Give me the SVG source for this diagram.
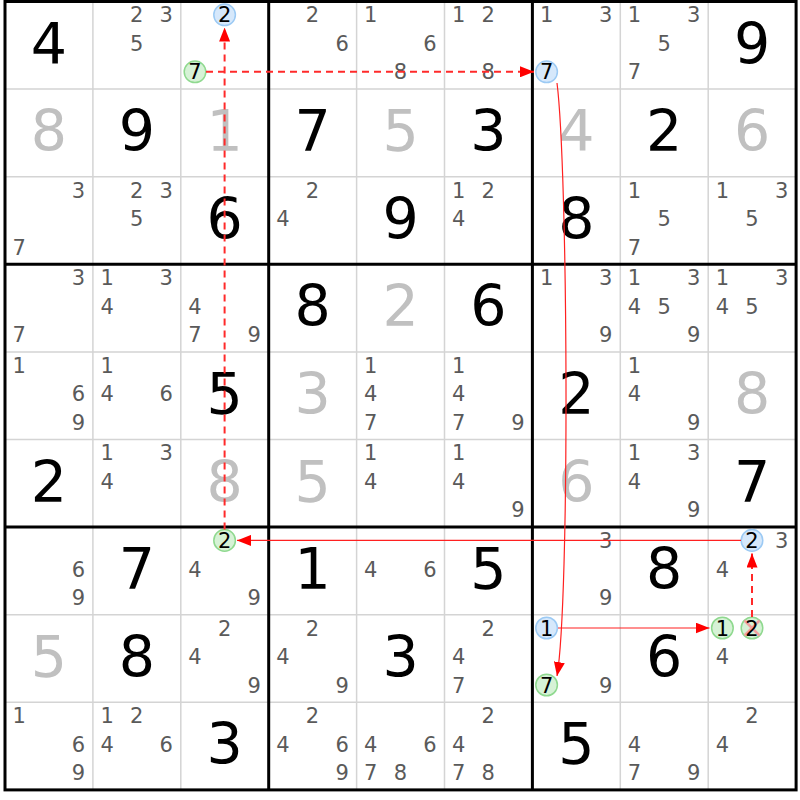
<svg xmlns="http://www.w3.org/2000/svg" width="800" height="800" viewBox="0 0 800 800">
<style>
text{font-family:"DejaVu Sans","Liberation Sans",sans-serif;text-anchor:middle}
.g{fill:#000;font-size:57px}
.s{fill:#c0c0c0;font-size:57px}
.c{fill:#5a5a5a;font-size:21px}
.k{fill:#000;font-size:21px}
.thin{stroke:#d4d4d4;stroke-width:1.5;fill:none}
.thick{stroke:#000;stroke-width:3;fill:none}
.blue{fill:#d6e8fb;stroke:#9ccaf4;stroke-width:1.5}
.green{fill:#d6f2d6;stroke:#8fd98f;stroke-width:1.5}
.x{stroke:#f2a0a0;stroke-width:2.5}
.dash{stroke:#ff2a2a;stroke-width:2;fill:none;stroke-dasharray:7 5}
.sol{stroke:#ff2020;stroke-width:1.2;fill:none}
</style>
<defs>
<marker id="ah" viewBox="0 0 14 11" refX="14" refY="5.5" markerWidth="14" markerHeight="11" markerUnits="userSpaceOnUse" orient="auto">
<path d="M0,0 L14,5.5 L0,11 Z" fill="#ff0000"/>
</marker>
</defs>
<rect x="0" y="0" width="800" height="800" fill="#fff"/>
<g id="grid">
<path class="thin" d="M92.9,1.5V789.9M180.8,1.5V789.9M356.6,1.5V789.9M444.5,1.5V789.9M620.3,1.5V789.9M708.2,1.5V789.9M5,89.1H796.1M5,176.7H796.1M5,351.9H796.1M5,439.5H796.1M5,614.7H796.1M5,702.3H796.1"/>
<path class="thick" d="M268.7,1.5V789.9M532.4,1.5V789.9M5,264.3H796.1M5,527.1H796.1"/>
<rect class="thick" x="5" y="1.5" width="791.1" height="788.4"/>
</g>
<g id="r0c0"><text class="g" x="48.95" y="63.5">4</text></g>
<g id="r0c1"><text class="c" x="136.7" y="22.4">2</text><text class="c" x="166.3" y="22.4">3</text><text class="c" x="136.7" y="50.9">5</text></g>
<g id="r0c2"><circle class="blue" cx="224.6" cy="14.8" r="10.8"/><text class="k" x="224.6" y="22.4">2</text><circle class="green" cx="195" cy="71.8" r="10.8"/><text class="k" x="195" y="79.4">7</text></g>
<g id="r0c3"><text class="c" x="312.5" y="22.4">2</text><text class="c" x="342.1" y="50.9">6</text></g>
<g id="r0c4"><text class="c" x="370.8" y="22.4">1</text><text class="c" x="430" y="50.9">6</text><text class="c" x="400.4" y="79.4">8</text></g>
<g id="r0c5"><text class="c" x="458.7" y="22.4">1</text><text class="c" x="488.3" y="22.4">2</text><text class="c" x="488.3" y="79.4">8</text></g>
<g id="r0c6"><text class="c" x="546.6" y="22.4">1</text><text class="c" x="605.8" y="22.4">3</text><circle class="blue" cx="546.6" cy="71.8" r="10.8"/><text class="k" x="546.6" y="79.4">7</text></g>
<g id="r0c7"><text class="c" x="634.5" y="22.4">1</text><text class="c" x="693.7" y="22.4">3</text><text class="c" x="664.1" y="50.9">5</text><text class="c" x="634.5" y="79.4">7</text></g>
<g id="r0c8"><text class="g" x="752.15" y="63.5">9</text></g>

<g id="r1c0"><text class="s" x="48.95" y="151.1">8</text></g>
<g id="r1c1"><text class="g" x="136.85" y="151.1">9</text></g>
<g id="r1c2"><text class="s" x="224.75" y="151.1">1</text></g>
<g id="r1c3"><text class="g" x="312.65" y="151.1">7</text></g>
<g id="r1c4"><text class="s" x="400.55" y="151.1">5</text></g>
<g id="r1c5"><text class="g" x="488.45" y="151.1">3</text></g>
<g id="r1c6"><text class="s" x="576.35" y="151.1">4</text></g>
<g id="r1c7"><text class="g" x="664.25" y="151.1">2</text></g>
<g id="r1c8"><text class="s" x="752.15" y="151.1">6</text></g>

<g id="r2c0"><text class="c" x="78.4" y="197.6">3</text><text class="c" x="19.2" y="254.6">7</text></g>
<g id="r2c1"><text class="c" x="136.7" y="197.6">2</text><text class="c" x="166.3" y="197.6">3</text><text class="c" x="136.7" y="226.1">5</text></g>
<g id="r2c2"><text class="g" x="224.75" y="238.7">6</text></g>
<g id="r2c3"><text class="c" x="312.5" y="197.6">2</text><text class="c" x="282.9" y="226.1">4</text></g>
<g id="r2c4"><text class="g" x="400.55" y="238.7">9</text></g>
<g id="r2c5"><text class="c" x="458.7" y="197.6">1</text><text class="c" x="488.3" y="197.6">2</text><text class="c" x="458.7" y="226.1">4</text></g>
<g id="r2c6"><text class="g" x="576.35" y="238.7">8</text></g>
<g id="r2c7"><text class="c" x="634.5" y="197.6">1</text><text class="c" x="664.1" y="226.1">5</text><text class="c" x="634.5" y="254.6">7</text></g>
<g id="r2c8"><text class="c" x="722.4" y="197.6">1</text><text class="c" x="781.6" y="197.6">3</text><text class="c" x="752" y="226.1">5</text></g>

<g id="r3c0"><text class="c" x="78.4" y="285.2">3</text><text class="c" x="19.2" y="342.2">7</text></g>
<g id="r3c1"><text class="c" x="107.1" y="285.2">1</text><text class="c" x="166.3" y="285.2">3</text><text class="c" x="107.1" y="313.7">4</text></g>
<g id="r3c2"><text class="c" x="195" y="313.7">4</text><text class="c" x="195" y="342.2">7</text><text class="c" x="254.2" y="342.2">9</text></g>
<g id="r3c3"><text class="g" x="312.65" y="326.3">8</text></g>
<g id="r3c4"><text class="s" x="400.55" y="326.3">2</text></g>
<g id="r3c5"><text class="g" x="488.45" y="326.3">6</text></g>
<g id="r3c6"><text class="c" x="546.6" y="285.2">1</text><text class="c" x="605.8" y="285.2">3</text><text class="c" x="605.8" y="342.2">9</text></g>
<g id="r3c7"><text class="c" x="634.5" y="285.2">1</text><text class="c" x="693.7" y="285.2">3</text><text class="c" x="634.5" y="313.7">4</text><text class="c" x="664.1" y="313.7">5</text><text class="c" x="693.7" y="342.2">9</text></g>
<g id="r3c8"><text class="c" x="722.4" y="285.2">1</text><text class="c" x="781.6" y="285.2">3</text><text class="c" x="722.4" y="313.7">4</text><text class="c" x="752" y="313.7">5</text></g>

<g id="r4c0"><text class="c" x="19.2" y="372.8">1</text><text class="c" x="78.4" y="401.3">6</text><text class="c" x="78.4" y="429.8">9</text></g>
<g id="r4c1"><text class="c" x="107.1" y="372.8">1</text><text class="c" x="107.1" y="401.3">4</text><text class="c" x="166.3" y="401.3">6</text></g>
<g id="r4c2"><text class="g" x="224.75" y="413.9">5</text></g>
<g id="r4c3"><text class="s" x="312.65" y="413.9">3</text></g>
<g id="r4c4"><text class="c" x="370.8" y="372.8">1</text><text class="c" x="370.8" y="401.3">4</text><text class="c" x="370.8" y="429.8">7</text></g>
<g id="r4c5"><text class="c" x="458.7" y="372.8">1</text><text class="c" x="458.7" y="401.3">4</text><text class="c" x="458.7" y="429.8">7</text><text class="c" x="517.9" y="429.8">9</text></g>
<g id="r4c6"><text class="g" x="576.35" y="413.9">2</text></g>
<g id="r4c7"><text class="c" x="634.5" y="372.8">1</text><text class="c" x="634.5" y="401.3">4</text><text class="c" x="693.7" y="429.8">9</text></g>
<g id="r4c8"><text class="s" x="752.15" y="413.9">8</text></g>

<g id="r5c0"><text class="g" x="48.95" y="501.5">2</text></g>
<g id="r5c1"><text class="c" x="107.1" y="460.4">1</text><text class="c" x="166.3" y="460.4">3</text><text class="c" x="107.1" y="488.9">4</text></g>
<g id="r5c2"><text class="s" x="224.75" y="501.5">8</text></g>
<g id="r5c3"><text class="s" x="312.65" y="501.5">5</text></g>
<g id="r5c4"><text class="c" x="370.8" y="460.4">1</text><text class="c" x="370.8" y="488.9">4</text></g>
<g id="r5c5"><text class="c" x="458.7" y="460.4">1</text><text class="c" x="458.7" y="488.9">4</text><text class="c" x="517.9" y="517.4">9</text></g>
<g id="r5c6"><text class="s" x="576.35" y="501.5">6</text></g>
<g id="r5c7"><text class="c" x="634.5" y="460.4">1</text><text class="c" x="693.7" y="460.4">3</text><text class="c" x="634.5" y="488.9">4</text><text class="c" x="693.7" y="517.4">9</text></g>
<g id="r5c8"><text class="g" x="752.15" y="501.5">7</text></g>

<g id="r6c0"><text class="c" x="78.4" y="576.5">6</text><text class="c" x="78.4" y="605">9</text></g>
<g id="r6c1"><text class="g" x="136.85" y="589.1">7</text></g>
<g id="r6c2"><circle class="green" cx="224.6" cy="540.4" r="10.8"/><text class="k" x="224.6" y="548">2</text><text class="c" x="195" y="576.5">4</text><text class="c" x="254.2" y="605">9</text></g>
<g id="r6c3"><text class="g" x="312.65" y="589.1">1</text></g>
<g id="r6c4"><text class="c" x="370.8" y="576.5">4</text><text class="c" x="430" y="576.5">6</text></g>
<g id="r6c5"><text class="g" x="488.45" y="589.1">5</text></g>
<g id="r6c6"><text class="c" x="605.8" y="548">3</text><text class="c" x="605.8" y="605">9</text></g>
<g id="r6c7"><text class="g" x="664.25" y="589.1">8</text></g>
<g id="r6c8"><circle class="blue" cx="752" cy="540.4" r="10.8"/><text class="k" x="752" y="548">2</text><text class="c" x="781.6" y="548">3</text><text class="c" x="722.4" y="576.5">4</text></g>

<g id="r7c0"><text class="s" x="48.95" y="676.7">5</text></g>
<g id="r7c1"><text class="g" x="136.85" y="676.7">8</text></g>
<g id="r7c2"><text class="c" x="224.6" y="635.6">2</text><text class="c" x="195" y="664.1">4</text><text class="c" x="254.2" y="692.6">9</text></g>
<g id="r7c3"><text class="c" x="312.5" y="635.6">2</text><text class="c" x="282.9" y="664.1">4</text><text class="c" x="342.1" y="692.6">9</text></g>
<g id="r7c4"><text class="g" x="400.55" y="676.7">3</text></g>
<g id="r7c5"><text class="c" x="488.3" y="635.6">2</text><text class="c" x="458.7" y="664.1">4</text><text class="c" x="458.7" y="692.6">7</text></g>
<g id="r7c6"><circle class="blue" cx="546.6" cy="628" r="10.8"/><text class="k" x="546.6" y="635.6">1</text><circle class="green" cx="546.6" cy="685" r="10.8"/><text class="k" x="546.6" y="692.6">7</text><text class="c" x="605.8" y="692.6">9</text></g>
<g id="r7c7"><text class="g" x="664.25" y="676.7">6</text></g>
<g id="r7c8"><circle class="green" cx="722.4" cy="628" r="10.8"/><text class="k" x="722.4" y="635.6">1</text><circle class="green" cx="752" cy="628" r="10.8"/><path class="x" d="M744.5,620.5L759.5,635.5M759.5,620.5L744.5,635.5"/><text class="k" x="752" y="635.6">2</text><text class="c" x="722.4" y="664.1">4</text></g>

<g id="r8c0"><text class="c" x="19.2" y="723.2">1</text><text class="c" x="78.4" y="751.7">6</text><text class="c" x="78.4" y="780.2">9</text></g>
<g id="r8c1"><text class="c" x="107.1" y="723.2">1</text><text class="c" x="136.7" y="723.2">2</text><text class="c" x="107.1" y="751.7">4</text><text class="c" x="166.3" y="751.7">6</text></g>
<g id="r8c2"><text class="g" x="224.75" y="764.3">3</text></g>
<g id="r8c3"><text class="c" x="312.5" y="723.2">2</text><text class="c" x="282.9" y="751.7">4</text><text class="c" x="342.1" y="751.7">6</text><text class="c" x="342.1" y="780.2">9</text></g>
<g id="r8c4"><text class="c" x="370.8" y="751.7">4</text><text class="c" x="430" y="751.7">6</text><text class="c" x="370.8" y="780.2">7</text><text class="c" x="400.4" y="780.2">8</text></g>
<g id="r8c5"><text class="c" x="488.3" y="723.2">2</text><text class="c" x="458.7" y="751.7">4</text><text class="c" x="458.7" y="780.2">7</text><text class="c" x="488.3" y="780.2">8</text></g>
<g id="r8c6"><text class="g" x="576.35" y="764.3">5</text></g>
<g id="r8c7"><text class="c" x="634.5" y="751.7">4</text><text class="c" x="634.5" y="780.2">7</text><text class="c" x="693.7" y="780.2">9</text></g>
<g id="r8c8"><text class="c" x="752" y="723.2">2</text><text class="c" x="722.4" y="751.7">4</text></g>

<g id="connectors">
<path class="dash" d="M206,71.8H534" marker-end="url(#ah)"/>
<path class="dash" d="M224.6,529.6V27.5" marker-end="url(#ah)"/>
<path class="sol" d="M557,83C568,170 570,600 557,676" marker-end="url(#ah)"/>
<path class="sol" d="M741,540.4H237" marker-end="url(#ah)"/>
<path class="sol" d="M558,628H709.5" marker-end="url(#ah)"/>
<path class="dash" d="M752,617V553.5" marker-end="url(#ah)"/>
</g>
</svg>
